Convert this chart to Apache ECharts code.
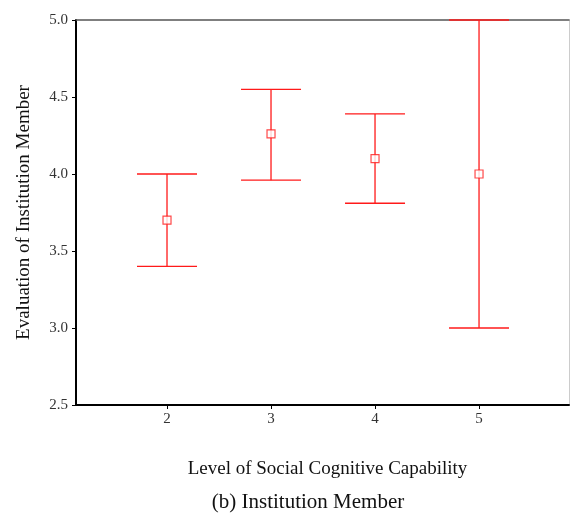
<!DOCTYPE html>
<html>
<head>
<meta charset="utf-8">
<script src="https://cdn.jsdelivr.net/npm/echarts@6/dist/echarts.min.js"></script>
<style>
  html, body { margin: 0; padding: 0; background: #fff; }
  #chart { width: 570px; height: 520px; }
</style>
</head>
<body>
<div id="chart"></div>
<script>
// Mean evaluation with confidence interval per capability level
const levels = [2, 3, 4, 5];
const means  = [3.70, 4.26, 4.10, 4.00];
const lower  = [3.40, 3.96, 3.81, 3.00];
const upper  = [4.00, 4.55, 4.39, 5.00];

const RED = '#ff1a1a';
const FONT = '"Liberation Serif", "DejaVu Serif", serif';

const barData = levels.map((lv, i) => [lv, lower[i], upper[i]]);
const meanData = levels.map((lv, i) => [lv, means[i]]);

const chart = echarts.init(document.getElementById('chart'));
chart.setOption({
  animation: false,
  backgroundColor: '#fff',
  grid: { left: 76, right: 1, top: 20, bottom: 115 },
  xAxis: [{
    type: 'value',
    min: 1.125,
    max: 5.865,
    name: 'Level of Social Cognitive Capability',
    nameLocation: 'middle',
    nameGap: 55,
    nameTextStyle: { fontFamily: FONT, fontSize: 19, color: '#111', padding: [0, 0, 0, 10] },
    axisLine: { lineStyle: { color: '#000', width: 2 } },
    axisTick: { customValues: levels, length: 4, lineStyle: { color: '#000', width: 1 } },
    axisLabel: { customValues: levels, fontFamily: FONT, fontSize: 15, color: '#333', margin: 7,
                 formatter: v => String(v) },
    splitLine: { show: false }
  }, {
    type: 'value',
    position: 'top',
    min: 1.125,
    max: 5.865,
    axisLine: { show: true, lineStyle: { color: '#555', width: 1.5 } },
    axisTick: { show: false },
    axisLabel: { show: false },
    splitLine: { show: false }
  }],
  yAxis: [{
    type: 'value',
    min: 2.5,
    max: 5.0,
    interval: 0.5,
    name: 'Evaluation of Institution Member',
    nameLocation: 'middle',
    nameGap: 42,
    nameRotate: 90,
    nameTextStyle: { fontFamily: FONT, fontSize: 19, color: '#111' },
    axisLine: { show: true, lineStyle: { color: '#000', width: 2 } },
    axisTick: { show: true, length: 4, lineStyle: { color: '#000', width: 1 } },
    axisLabel: { fontFamily: FONT, fontSize: 15, color: '#333', margin: 8,
                 formatter: v => v.toFixed(1) },
    splitLine: { show: false }
  }, {
    type: 'value',
    position: 'right',
    min: 2.5,
    max: 5.0,
    axisLine: { show: true, lineStyle: { color: '#ccc', width: 1 } },
    axisTick: { show: false },
    axisLabel: { show: false },
    splitLine: { show: false }
  }],
  series: [{
    type: 'custom',
    data: barData,
    encode: { x: 0, y: [1, 2] },
    z: 3,
    renderItem: function (params, api) {
      const x = api.value(0);
      const lo = api.coord([x, api.value(1)]);
      const hi = api.coord([x, api.value(2)]);
      const half = 30;
      const style = { stroke: RED, lineWidth: 1.3, fill: null };
      return {
        type: 'group',
        children: [
          { type: 'line', shape: { x1: hi[0], y1: hi[1], x2: lo[0], y2: lo[1] }, style },
          { type: 'line', shape: { x1: hi[0] - half, y1: hi[1], x2: hi[0] + half, y2: hi[1] }, style },
          { type: 'line', shape: { x1: lo[0] - half, y1: lo[1], x2: lo[0] + half, y2: lo[1] }, style }
        ]
      };
    }
  }, {
    type: 'scatter',
    data: meanData,
    symbol: 'rect',
    symbolSize: 8,
    z: 4,
    itemStyle: { color: '#fff', borderColor: RED, borderWidth: 1.2 }
  }],
  graphic: [{
    type: 'text',
    x: 308,
    y: 492,
    style: { text: '(b) Institution Member', font: '21px ' + FONT, fill: '#111', align: 'center', verticalAlign: 'top' }
  }]
});
</script>
</body>
</html>
